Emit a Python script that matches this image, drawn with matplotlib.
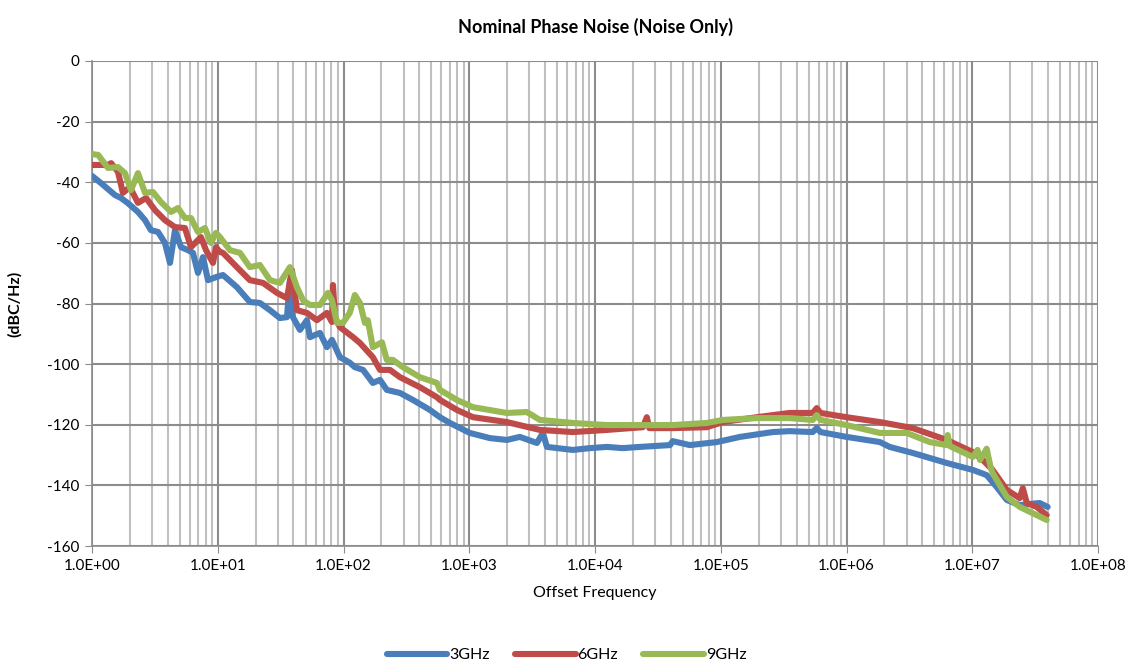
import matplotlib
matplotlib.use("Agg")
import matplotlib.pyplot as plt
from matplotlib.ticker import FixedLocator, LogLocator, NullFormatter

plt.rcParams.update({
    "font.family": ["Lato", "DejaVu Sans"],
    "font.size": 11,
})

# ---- data (offset Hz, dBc/Hz) ----
f_3g = [1.0, 1.18, 1.52, 1.70, 1.93, 2.32, 2.64, 2.94, 3.35, 3.80, 4.17, 4.57, 5.10, 5.80,
        6.35, 6.96, 7.63, 8.36, 9.68, 11.0, 14.2, 18.0, 21.6, 26.0, 31.2, 35.5, 37.5, 39.6,
        45.0, 51.2, 54.1, 64.9, 73.8, 80.9, 93.6, 112, 123, 143, 171, 195, 221, 281, 356,
        486, 584, 701, 1010, 1460, 1990, 2520, 3450, 3850, 4140, 6660, 9100, 12400, 16600,
        22700, 39400, 41500, 56700, 93000, 142000, 259000, 353000, 538000, 579000, 620000,
        1.0e6, 1.84e6, 2.2e6, 3.36e6, 6.25e6, 1.01e7, 1.30e7, 1.56e7, 1.88e7, 2.38e7,
        3.43e7, 3.97e7]
pn_3g = [-37.9, -40.3, -44.2, -45.2, -46.9, -49.8, -52.5, -55.8, -56.4, -60.0, -66.6, -55.8,
         -61.4, -62.4, -63.3, -69.9, -64.7, -72.3, -71.3, -70.6, -74.6, -79.5, -79.8, -82.2,
         -84.8, -84.5, -72.3, -84.5, -88.7, -85.5, -91.1, -89.7, -94.4, -92.0, -97.7, -99.5,
         -101.0, -101.9, -106.2, -105.2, -108.5, -109.5, -111.8, -115.1, -117.5, -119.4,
         -122.7, -124.4, -125.0, -124.0, -126.0, -122.7, -127.3, -128.3, -127.7, -127.3,
         -127.7, -127.3, -126.7, -125.4, -126.7, -125.7, -124.0, -122.4, -122.1, -122.4,
         -121.1, -122.4, -124.0, -125.7, -127.3, -129.3, -132.6, -134.9, -136.6, -140.5,
         -144.8, -146.5, -145.8, -147.1]

f_6g = [1.0, 1.34, 1.42, 1.61, 1.76, 2.0, 2.32, 2.69, 3.17, 3.80, 4.57, 5.48, 6.12, 7.35,
        8.06, 9.16, 9.68, 10.4, 11.0, 14.2, 18.0, 22.9, 29.6, 35.5, 38.9, 42.6, 51.2, 61.5,
        73.8, 80.9, 82.4, 85.5, 93.6, 119, 135, 171, 195, 234, 281, 405, 553, 584, 797,
        1070, 1990, 3640, 6660, 12400, 24000, 25800, 27000, 41500, 77400, 104000, 193000,
        353000, 538000, 579000, 620000, 1.0e6, 1.84e6, 3.36e6, 6.25e6, 1.01e7, 1.21e7,
        1.45e7, 1.88e7, 2.38e7, 2.52e7, 2.71e7, 3.25e7, 3.90e7]
pn_6g = [-34.3, -34.3, -33.7, -36.6, -43.5, -41.6, -46.8, -45.2, -49.2, -52.5, -54.8, -55.1,
         -61.4, -58.1, -62.4, -66.6, -61.4, -63.0, -63.3, -68.0, -72.3, -73.2, -76.5, -78.2,
         -69.0, -82.2, -83.1, -85.5, -83.1, -86.1, -73.9, -84.5, -87.8, -91.1, -93.0, -97.7,
         -101.9, -101.9, -104.3, -107.6, -110.9, -111.8, -115.1, -117.5, -119.1, -121.7,
         -122.4, -121.7, -120.8, -117.5, -121.1, -121.1, -120.8, -119.1, -117.5, -116.1,
         -116.1, -114.5, -116.1, -117.5, -119.1, -121.1, -125.0, -129.0, -131.6, -134.9,
         -141.5, -144.2, -140.9, -145.8, -147.1, -149.8]

f_9g = [1.0, 1.12, 1.34, 1.61, 1.83, 2.04, 2.32, 2.64, 3.05, 3.53, 4.25, 4.83, 5.48, 6.12,
        6.96, 7.91, 8.83, 9.68, 10.4, 12.5, 15.0, 18.0, 21.6, 26.0, 31.2, 37.5, 42.6, 47.6,
        54.1, 64.9, 75.2, 80.9, 88.7, 98.9, 112, 123, 135, 148, 156, 171, 202, 221, 247,
        297, 405, 553, 584, 797, 1070, 1990, 2870, 3640, 6660, 12400, 22700, 41500, 77400,
        104000, 193000, 353000, 538000, 579000, 620000, 1.0e6, 1.84e6, 3.01e6, 4.58e6,
        6.25e6, 6.37e6, 6.6e6, 1.01e7, 1.10e7, 1.15e7, 1.30e7, 1.40e7, 1.45e7, 1.88e7,
        2.38e7, 3.25e7, 3.90e7]
pn_9g = [-30.7, -31.0, -35.3, -35.0, -37.0, -42.6, -37.0, -43.5, -43.2, -46.5, -49.8, -48.5,
         -51.8, -51.8, -56.4, -55.1, -60.0, -56.7, -58.1, -62.4, -63.3, -68.0, -67.3, -72.3,
         -73.2, -68.0, -74.6, -78.9, -80.5, -80.5, -76.5, -78.9, -86.4, -86.4, -83.1, -77.2,
         -79.8, -86.4, -85.5, -94.4, -92.8, -98.6, -98.6, -101.0, -104.3, -106.2, -108.5,
         -111.8, -114.2, -116.1, -115.8, -118.4, -119.4, -120.1, -120.1, -120.1, -119.4,
         -118.4, -117.8, -117.8, -118.4, -116.8, -118.4, -120.1, -122.7, -122.7, -125.7,
         -126.7, -123.4, -127.0, -130.6, -128.3, -131.6, -127.9, -134.2, -135.9, -143.8,
         -147.1, -149.8, -151.4]

SERIES = [
    ("3GHz", f_3g, pn_3g, "#4A7EBB"),
    ("6GHz", f_6g, pn_6g, "#BE4B48"),
    ("9GHz", f_9g, pn_9g, "#98B954"),
]
x_ticks = [1e0, 1e1, 1e2, 1e3, 1e4, 1e5, 1e6, 1e7, 1e8]
x_tick_labels = ["1.0E+00", "1.0E+01", "1.0E+02", "1.0E+03", "1.0E+04",
                 "1.0E+05", "1.0E+06", "1.0E+07", "1.0E+08"]
y_ticks = [0, -20, -40, -60, -80, -100, -120, -140, -160]

fig = plt.figure(figsize=(11.33, 6.70), dpi=100)
ax = fig.add_axes([0.0812, 0.185, 0.888, 0.724])

for label, f, pn, col in SERIES:
    ax.plot(f, pn, color=col, linewidth=4.4, label=label,
            solid_joinstyle="round", solid_capstyle="round", zorder=3)

ax.set_xscale("log")
ax.set_xlim(1, 1e8)
ax.set_ylim(-160, 0)
ax.xaxis.set_major_locator(FixedLocator(x_ticks))
ax.set_xticklabels(x_tick_labels)
ax.xaxis.set_minor_locator(LogLocator(base=10, subs=range(2, 10), numticks=100))
ax.xaxis.set_minor_formatter(NullFormatter())
ax.set_yticks(y_ticks)
ax.set_yticklabels([str(v) for v in y_ticks])

ax.grid(True, which="major", color="#8C8C8C", linewidth=1.5, zorder=0)
ax.grid(True, which="minor", axis="x", color="#C0C0C0", linewidth=1.5, zorder=0)
for s in ("top", "right"):
    ax.spines[s].set_visible(False)
for s in ("left", "bottom"):
    ax.spines[s].set_color("#8C8C8C")
    ax.spines[s].set_linewidth(1.2)
ax.tick_params(which="major", length=5, color="#8C8C8C", labelsize=11, pad=4)
ax.tick_params(which="minor", length=0)

ax.set_title("Nominal Phase Noise (Noise Only)", fontsize=13, fontweight="bold", pad=20)
ax.set_xlabel("Offset Frequency", fontsize=11.5, labelpad=10)
ax.set_ylabel("(dBC/Hz)", fontsize=11.5, fontweight="bold", labelpad=18)

fig.legend(loc="lower center", bbox_to_anchor=(0.5, -0.01), ncol=3, frameon=False,
           handlelength=3.8, handletextpad=0.1, columnspacing=1.6, fontsize=11.5)

fig.savefig("out.png", dpi=100)
